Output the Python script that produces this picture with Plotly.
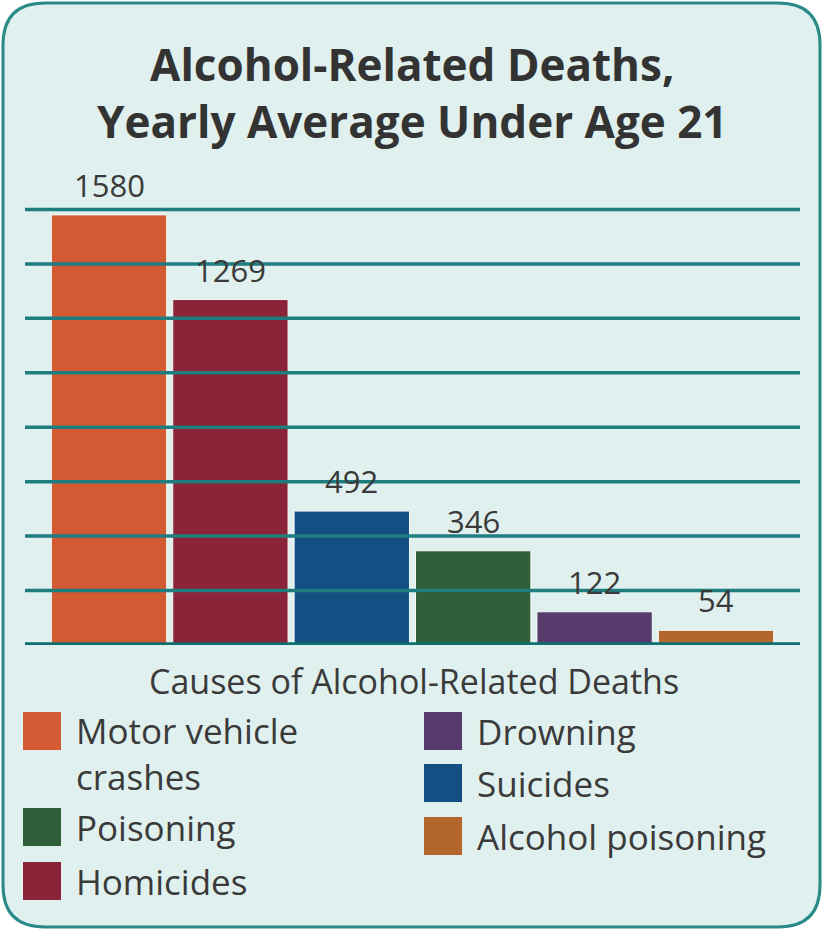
import plotly.graph_objects as go

W, H = 825, 933

# data
causes = ["Motor vehicle crashes", "Homicides", "Suicides", "Poisoning",
          "Drowning", "Alcohol poisoning"]
deaths = [1580, 1269, 492, 346, 122, 54]
colors = ["#d45a33", "#8b2339", "#134f82", "#2f5f38", "#553a6b", "#b4662f"]
grid_values = [200, 400, 600, 800, 1000, 1200, 1400, 1600]

legend_left = ["Motor vehicle crashes", "Poisoning", "Homicides"]
legend_right = ["Drowning", "Suicides", "Alcohol poisoning"]
legend_text = {"Motor vehicle crashes": "Motor vehicle<br>crashes"}

title = "Alcohol-Related Deaths,<br>Yearly Average Under Age 21"
subtitle = "Causes of Alcohol-Related Deaths"

FONT = "Open Sans"
TEXT = "#3a3a3a"
TEAL = "#2a8a87"
GRID = "#1e7d7f"


def px(x):
    return x / W


def py(y):
    return 1 - y / H


fig = go.Figure()
fig.add_trace(go.Bar(
    x=causes, y=deaths,
    marker=dict(color=colors, line=dict(color="#f3faf9", width=1)),
    hoverinfo="x+y",
    showlegend=False,
))

# value labels above the bars
for c, v in zip(causes, deaths):
    fig.add_annotation(x=c, y=v, text=str(v), showarrow=False,
                       yanchor="middle", yshift=30,
                       font=dict(family=FONT, size=31, color=TEXT))

# card background with rounded corners
x0, x1, y0, y1, r = px(3), px(820), py(3), py(927), 42
path = (f"M {px(3 + r)},{y0} L {px(820 - r)},{y0} Q {x1},{y0} {x1},{py(3 + r)} "
        f"L {x1},{py(927 - r)} Q {x1},{y1} {px(820 - r)},{y1} "
        f"L {px(3 + r)},{y1} Q {x0},{y1} {x0},{py(927 - r)} "
        f"L {x0},{py(3 + r)} Q {x0},{y0} {px(3 + r)},{y0} Z")
fig.add_shape(type="path", path=path, xref="paper", yref="paper",
              fillcolor="#dff0ee", line=dict(color=TEAL, width=3), layer="below")

# gridlines sit on top of the bars in the original
for g in grid_values:
    fig.add_shape(type="line", xref="x domain", yref="y", x0=0, x1=1, y0=g, y1=g,
                  line=dict(color=GRID, width=3.5), layer="above")
fig.add_shape(type="line", xref="x domain", yref="y", x0=0, x1=1, y0=0, y1=0,
              line=dict(color="#0f6e70", width=5.5), layer="above")

# title and legend heading
fig.add_annotation(x=0.5, y=py(92), xref="paper", yref="paper", text=title,
                   showarrow=False, yanchor="middle",
                   font=dict(family=FONT, size=44, color="#333333", weight=700))
fig.add_annotation(x=px(414), y=py(681), xref="paper", yref="paper", text=subtitle,
                   showarrow=False, yanchor="middle",
                   font=dict(family=FONT, size=34, color=TEXT))

# custom two-column legend
color_of = dict(zip(causes, colors))
columns = [(legend_left, 23, [712, 808, 862]), (legend_right, 424, [712, 764, 817])]
for names, left, tops in columns:
    for name, top in zip(names, tops):
        fig.add_shape(type="rect", xref="paper", yref="paper",
                      x0=px(left), x1=px(left + 38), y0=py(top), y1=py(top + 38),
                      fillcolor=color_of[name], line=dict(width=0))
        label = legend_text.get(name, name)
        n_lines = label.count("<br>") + 1
        fig.add_annotation(x=px(left + 51), y=py(top + 19 + 22 * (n_lines - 1)),
                           xref="paper", yref="paper", text=label, showarrow=False,
                           xanchor="left", yanchor="middle", align="left",
                           font=dict(family=FONT, size=35, color=TEXT))

fig.update_layout(
    width=W, height=H,
    margin=dict(l=0, r=0, t=0, b=0, pad=0),
    paper_bgcolor="white",
    plot_bgcolor="rgba(0,0,0,0)",
    bargap=0.05,
    font=dict(family=FONT, color=TEXT),
    xaxis=dict(domain=[px(25), px(800)], range=[-0.692, 5.692],
               visible=False, fixedrange=True),
    yaxis=dict(domain=[py(645), py(155)], range=[0, 1800],
               visible=False, fixedrange=True),
)

fig.write_html("out.html", config={"displayModeBar": False},
               post_script="document.body.style.margin='0';")
